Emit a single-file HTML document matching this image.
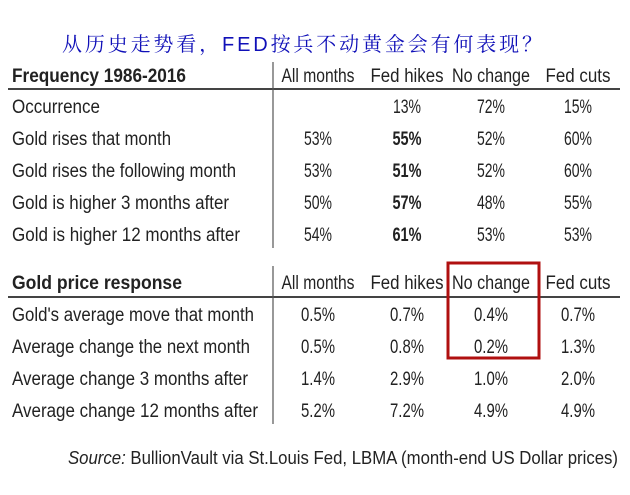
<!DOCTYPE html>
<html><head><meta charset="utf-8"><style>
body{margin:0;background:#fff;}
svg text{font-family:"Liberation Sans",Arial,sans-serif;fill:#222;}
</style></head><body>
<svg width="630" height="490" viewBox="0 0 630 490" xmlns="http://www.w3.org/2000/svg">
<text x="62" y="51" font-size="20" textLength="480" lengthAdjust="spacing" style="fill:#1010b8;font-family:'Liberation Sans','Noto Serif CJK SC',serif">从历史走势看，FED按兵不动黄金会有何表现？</text>

<g font-size="19">
<text x="12" y="82" font-weight="bold" textLength="174" lengthAdjust="spacingAndGlyphs">Frequency 1986-2016</text>
<text x="318" y="82" text-anchor="middle" textLength="73" lengthAdjust="spacingAndGlyphs">All months</text>
<text x="407" y="82" text-anchor="middle" textLength="73" lengthAdjust="spacingAndGlyphs">Fed hikes</text>
<text x="491" y="82" text-anchor="middle" textLength="78" lengthAdjust="spacingAndGlyphs">No change</text>
<text x="578" y="82" text-anchor="middle" textLength="65" lengthAdjust="spacingAndGlyphs">Fed cuts</text>
<line x1="8" y1="89" x2="620" y2="89" stroke="#444" stroke-width="2"/>
<line x1="273" y1="62" x2="273" y2="248" stroke="#555" stroke-width="1.2"/>

<text x="12" y="113" textLength="88" lengthAdjust="spacingAndGlyphs">Occurrence</text>
<text x="407" y="113" text-anchor="middle" textLength="28" lengthAdjust="spacingAndGlyphs">13%</text><text x="491" y="113" text-anchor="middle" textLength="28" lengthAdjust="spacingAndGlyphs">72%</text><text x="578" y="113" text-anchor="middle" textLength="28" lengthAdjust="spacingAndGlyphs">15%</text>

<text x="12" y="145" textLength="159" lengthAdjust="spacingAndGlyphs">Gold rises that month</text>
<text x="318" y="145" text-anchor="middle" textLength="28" lengthAdjust="spacingAndGlyphs">53%</text><text x="407" y="145" text-anchor="middle" font-weight="bold" textLength="29" lengthAdjust="spacingAndGlyphs">55%</text><text x="491" y="145" text-anchor="middle" textLength="28" lengthAdjust="spacingAndGlyphs">52%</text><text x="578" y="145" text-anchor="middle" textLength="28" lengthAdjust="spacingAndGlyphs">60%</text>

<text x="12" y="177" textLength="224" lengthAdjust="spacingAndGlyphs">Gold rises the following month</text>
<text x="318" y="177" text-anchor="middle" textLength="28" lengthAdjust="spacingAndGlyphs">53%</text><text x="407" y="177" text-anchor="middle" font-weight="bold" textLength="29" lengthAdjust="spacingAndGlyphs">51%</text><text x="491" y="177" text-anchor="middle" textLength="28" lengthAdjust="spacingAndGlyphs">52%</text><text x="578" y="177" text-anchor="middle" textLength="28" lengthAdjust="spacingAndGlyphs">60%</text>

<text x="12" y="209" textLength="217" lengthAdjust="spacingAndGlyphs">Gold is higher 3 months after</text>
<text x="318" y="209" text-anchor="middle" textLength="28" lengthAdjust="spacingAndGlyphs">50%</text><text x="407" y="209" text-anchor="middle" font-weight="bold" textLength="29" lengthAdjust="spacingAndGlyphs">57%</text><text x="491" y="209" text-anchor="middle" textLength="28" lengthAdjust="spacingAndGlyphs">48%</text><text x="578" y="209" text-anchor="middle" textLength="28" lengthAdjust="spacingAndGlyphs">55%</text>

<text x="12" y="241" textLength="228" lengthAdjust="spacingAndGlyphs">Gold is higher 12 months after</text>
<text x="318" y="241" text-anchor="middle" textLength="28" lengthAdjust="spacingAndGlyphs">54%</text><text x="407" y="241" text-anchor="middle" font-weight="bold" textLength="29" lengthAdjust="spacingAndGlyphs">61%</text><text x="491" y="241" text-anchor="middle" textLength="28" lengthAdjust="spacingAndGlyphs">53%</text><text x="578" y="241" text-anchor="middle" textLength="28" lengthAdjust="spacingAndGlyphs">53%</text>
</g>

<g font-size="19">
<text x="12" y="289" font-weight="bold" textLength="170" lengthAdjust="spacingAndGlyphs">Gold price response</text>
<text x="318" y="289" text-anchor="middle" textLength="73" lengthAdjust="spacingAndGlyphs">All months</text>
<text x="407" y="289" text-anchor="middle" textLength="73" lengthAdjust="spacingAndGlyphs">Fed hikes</text>
<text x="491" y="289" text-anchor="middle" textLength="78" lengthAdjust="spacingAndGlyphs">No change</text>
<text x="578" y="289" text-anchor="middle" textLength="65" lengthAdjust="spacingAndGlyphs">Fed cuts</text>
<line x1="8" y1="297" x2="620" y2="297" stroke="#444" stroke-width="2"/>
<line x1="273" y1="266" x2="273" y2="424" stroke="#555" stroke-width="1.2"/>

<text x="12" y="321" textLength="242" lengthAdjust="spacingAndGlyphs">Gold's average move that month</text>
<text x="318" y="321" text-anchor="middle" textLength="34" lengthAdjust="spacingAndGlyphs">0.5%</text><text x="407" y="321" text-anchor="middle" textLength="34" lengthAdjust="spacingAndGlyphs">0.7%</text><text x="491" y="321" text-anchor="middle" textLength="34" lengthAdjust="spacingAndGlyphs">0.4%</text><text x="578" y="321" text-anchor="middle" textLength="34" lengthAdjust="spacingAndGlyphs">0.7%</text>

<text x="12" y="353" textLength="238" lengthAdjust="spacingAndGlyphs">Average change the next month</text>
<text x="318" y="353" text-anchor="middle" textLength="34" lengthAdjust="spacingAndGlyphs">0.5%</text><text x="407" y="353" text-anchor="middle" textLength="34" lengthAdjust="spacingAndGlyphs">0.8%</text><text x="491" y="353" text-anchor="middle" textLength="34" lengthAdjust="spacingAndGlyphs">0.2%</text><text x="578" y="353" text-anchor="middle" textLength="34" lengthAdjust="spacingAndGlyphs">1.3%</text>

<text x="12" y="385" textLength="236" lengthAdjust="spacingAndGlyphs">Average change 3 months after</text>
<text x="318" y="385" text-anchor="middle" textLength="34" lengthAdjust="spacingAndGlyphs">1.4%</text><text x="407" y="385" text-anchor="middle" textLength="34" lengthAdjust="spacingAndGlyphs">2.9%</text><text x="491" y="385" text-anchor="middle" textLength="34" lengthAdjust="spacingAndGlyphs">1.0%</text><text x="578" y="385" text-anchor="middle" textLength="34" lengthAdjust="spacingAndGlyphs">2.0%</text>

<text x="12" y="417" textLength="246" lengthAdjust="spacingAndGlyphs">Average change 12 months after</text>
<text x="318" y="417" text-anchor="middle" textLength="34" lengthAdjust="spacingAndGlyphs">5.2%</text><text x="407" y="417" text-anchor="middle" textLength="34" lengthAdjust="spacingAndGlyphs">7.2%</text><text x="491" y="417" text-anchor="middle" textLength="34" lengthAdjust="spacingAndGlyphs">4.9%</text><text x="578" y="417" text-anchor="middle" textLength="34" lengthAdjust="spacingAndGlyphs">4.9%</text>

<rect x="448" y="263" width="91" height="95" fill="none" stroke="#b01010" stroke-width="3"/>
</g>

<text x="68" y="464" font-size="18" textLength="550" lengthAdjust="spacingAndGlyphs"><tspan font-style="italic">Source:</tspan> BullionVault via St.Louis Fed, LBMA (month-end US Dollar prices)</text>
</svg>
</body></html>
